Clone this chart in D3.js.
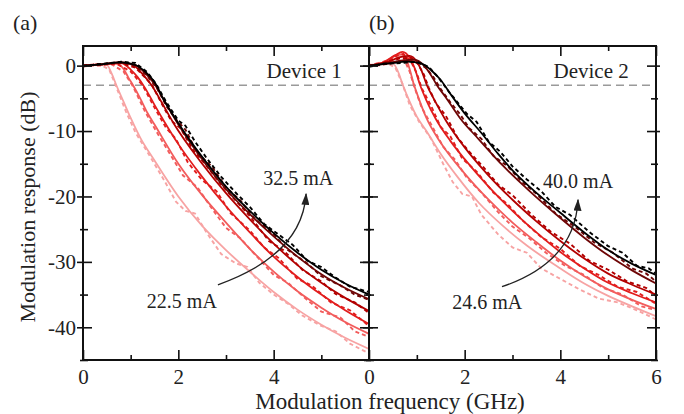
<!DOCTYPE html>
<html>
<head>
<meta charset="utf-8">
<script src="https://cdn.jsdelivr.net/npm/d3@7/dist/d3.min.js"></script>
<style>
  body { margin: 0; background: #fff; }
  svg text { font-family: "Liberation Serif", "Times New Roman", serif; fill: #222; }
</style>
</head>
<body>
<div id="chart"></div>
<script>
// currents, lowest (pink) to highest (black)
const curveColors = ["#f7a3a3", "#f25c5c", "#e21d1d", "#b30000", "#6e0505", "#000000"];

const xMajor = [0, 2, 4, 6];
const xMinor = [1, 3, 5];
const yMajor = [0, -10, -20, -30, -40];
const yMinor = [-5, -15, -25, -35, -45];
const cutoffDb = -3;

// Device 1 fits (solid), [GHz, dB]
const dev1Fit = [
  [[0,0],[0.3,0.2],[0.5,0.1],[0.6,-1.2],[0.7,-3],[0.85,-5.5],[1,-8],[1.2,-11],[1.5,-14.5],[2,-20],[2.5,-24.5],[3,-28.2],[3.5,-31.5],[4,-34.6],[4.5,-37.3],[5,-39.6],[5.5,-41.6],[6,-43.3]],
  [[0,0],[0.4,0.2],[0.7,0.3],[0.85,-0.5],[0.95,-1.8],[1.05,-3],[1.2,-5],[1.35,-7.2],[1.5,-9],[2,-15],[2.5,-19.8],[3,-24],[3.5,-28],[4,-31.5],[4.5,-34.5],[5,-37],[5.5,-39.2],[6,-41]],
  [[0,0],[0.4,0.2],[0.8,0.4],[1,-0.6],[1.15,-1.8],[1.3,-3.4],[1.5,-6],[1.7,-8.5],[2,-12],[2.5,-17],[3,-21.5],[3.5,-25.5],[4,-29.2],[4.5,-32.3],[5,-35],[5.5,-37.4],[6,-39.5]],
  [[0,0],[0.4,0.2],[0.8,0.5],[1.05,0.1],[1.25,-1.3],[1.45,-3.1],[1.65,-5.6],[1.9,-8.8],[2.5,-15],[3,-19.5],[3.5,-23.5],[4,-27.2],[4.5,-30.5],[5,-33.2],[5.5,-35.5],[6,-37.5]],
  [[0,0],[0.4,0.2],[0.8,0.5],[1.1,0.1],[1.3,-1.1],[1.5,-2.8],[1.7,-5.3],[2,-9],[2.3,-12.3],[2.6,-15.3],[3,-18.9],[3.5,-22.7],[4,-26.1],[4.5,-29.2],[5,-31.9],[5.5,-34],[6,-35.7]],
  [[0,0],[0.4,0.2],[0.8,0.5],[1.1,0.1],[1.3,-0.9],[1.5,-2.5],[1.7,-5.3],[2,-8.8],[2.3,-12],[2.6,-14.9],[3,-18.5],[3.5,-22.2],[4,-25.6],[4.5,-28.6],[5,-31.2],[5.5,-33.3],[6,-35]]
];

// Device 1 measured (dashed)
const dev1Meas = [
  [[0,-0.2],[0.2,0.1],[0.4,0],[0.55,-0.6],[0.7,-3.3],[0.9,-7],[1.1,-10.2],[1.4,-13.8],[1.7,-17.5],[1.95,-20.8],[2.15,-22.2],[2.35,-22.6],[2.6,-25.6],[2.9,-28.8],[3.2,-30.2],[3.45,-30.8],[3.7,-33.2],[4,-35],[4.3,-36.4],[4.6,-38.2],[5,-39.8],[5.3,-40.6],[5.6,-42.5],[6,-44]],
  [[0,0.1],[0.3,0],[0.6,0.2],[0.85,-0.9],[1.05,-3.2],[1.3,-7],[1.55,-10.2],[1.8,-13.2],[2.1,-16.8],[2.4,-18.6],[2.7,-21.8],[3,-24.8],[3.3,-26.4],[3.6,-28.8],[4,-32],[4.3,-33.2],[4.7,-35.8],[5,-37.6],[5.4,-38.5],[5.7,-40.6],[6,-41.5]],
  [[0,0],[0.3,0.2],[0.7,0.3],[1,-0.9],[1.25,-3],[1.5,-6.4],[1.75,-9.6],[1.95,-11.2],[2.2,-14.8],[2.5,-17.5],[2.8,-19.2],[3.1,-22.6],[3.5,-25.2],[3.8,-27.8],[4.1,-29.4],[4.5,-32.6],[4.8,-33.6],[5.2,-36.2],[5.6,-37.4],[6,-39.8]],
  [[0,-0.1],[0.3,0.2],[0.8,0.4],[1.1,-0.3],[1.3,-1.8],[1.45,-3],[1.65,-5.8],[1.85,-8.4],[2.05,-9.6],[2.3,-12.8],[2.6,-15.4],[2.9,-18.2],[3.2,-20.6],[3.5,-23],[3.9,-26.8],[4.2,-28.2],[4.6,-31.2],[5,-33],[5.3,-34.9],[5.7,-36.2],[6,-37.8]],
  [[0,0],[0.3,0.1],[0.8,0.5],[1.1,0],[1.35,-1.6],[1.55,-3.4],[1.75,-6.2],[1.95,-8.2],[2.15,-9.8],[2.4,-13.4],[2.7,-15.4],[3,-18.6],[3.3,-20.6],[3.6,-23.4],[4,-25.8],[4.3,-28.2],[4.7,-30.2],[5,-32.2],[5.4,-33.6],[5.7,-35],[6,-35.8]],
  [[0,-0.1],[0.3,0.2],[0.8,0.6],[1.1,0.4],[1.35,-1],[1.55,-3],[1.75,-5.6],[2,-8.4],[2.15,-9.2],[2.35,-11.6],[2.6,-14.2],[2.9,-17],[3.2,-19.4],[3.5,-21.6],[3.8,-24.2],[4.1,-25.8],[4.4,-27.4],[4.7,-29.8],[5,-30.8],[5.3,-32.4],[5.6,-33.8],[6,-34.6]]
];

// Device 2 fits (solid)
const dev2Fit = [
  [[0,0],[0.3,0.3],[0.5,0.3],[0.6,-0.8],[0.71,-3],[0.85,-5.5],[1,-7.8],[1.2,-10],[1.5,-13.5],[1.85,-17],[2.3,-21],[2.8,-24.5],[3.3,-27.5],[4,-31],[4.5,-33.3],[5,-35.2],[5.5,-36.8],[6,-38.3]],
  [[0,0],[0.3,0.5],[0.55,1.5],[0.68,1.7],[0.78,1],[0.86,-0.8],[0.93,-2.7],[1,-4.2],[1.2,-8],[1.5,-11.8],[2,-16.5],[2.5,-20.5],[3,-24],[3.5,-27],[4,-29.8],[4.5,-32.2],[5,-34.2],[5.5,-35.8],[6,-37.2]],
  [[0,0],[0.3,0.5],[0.55,1.6],[0.7,2.1],[0.85,1.2],[0.95,-0.3],[1.07,-3],[1.2,-5.3],[1.4,-8.2],[1.7,-11.5],[2,-14.3],[2.5,-18.5],[3,-22.2],[3.5,-25.5],[4,-28.5],[4.5,-31],[5,-33.2],[5.5,-34.8],[6,-36.2]],
  [[0,0],[0.4,0.6],[0.65,1.3],[0.85,1.5],[1,0.6],[1.1,-0.8],[1.21,-3],[1.35,-5],[1.6,-8.3],[2,-12.5],[2.5,-16.8],[3,-20.5],[3.5,-23.8],[4,-26.8],[4.5,-29.5],[5,-31.8],[5.5,-33.5],[6,-35]],
  [[0,0],[0.4,0.4],[0.7,0.8],[0.95,0.9],[1.15,0],[1.3,-1.5],[1.42,-3],[1.6,-4.8],[1.9,-8],[2.3,-11.3],[2.8,-15.3],[3.3,-18.8],[4,-23.3],[4.5,-26.3],[5,-29],[5.5,-31.3],[6,-33.3]],
  [[0,0],[0.4,0.3],[0.8,0.6],[1.1,0.3],[1.3,-0.7],[1.5,-2.2],[1.7,-4.3],[2,-7.3],[2.35,-10.3],[2.7,-13.5],[3,-16],[3.4,-18.8],[4,-22.5],[4.5,-25.5],[5,-28.2],[5.5,-30.3],[6,-32]]
];

// Device 2 measured (dashed)
const dev2Meas = [
  [[0,0.2],[0.2,0],[0.4,0.3],[0.55,-0.3],[0.7,-2.8],[0.85,-6],[1.05,-8.6],[1.3,-11.2],[1.55,-15],[1.75,-17.8],[1.95,-19.6],[2.15,-20],[2.35,-22.8],[2.7,-25.8],[3,-27.8],[3.3,-28.6],[3.6,-31],[4,-32.6],[4.4,-34.2],[4.8,-35.6],[5.2,-36.2],[5.6,-37.4],[6,-38.8]],
  [[0,0],[0.3,0.6],[0.55,1.2],[0.72,1.2],[0.85,-0.9],[0.95,-3.3],[1.1,-6.4],[1.3,-9],[1.55,-12.4],[1.8,-14.4],[2.05,-17.2],[2.35,-19.4],[2.7,-22.4],[3,-24.6],[3.35,-26.4],[3.7,-28.6],[4.1,-30.6],[4.5,-32],[4.9,-34],[5.3,-35],[5.7,-36.8],[6,-37.4]],
  [[0,0],[0.3,0.3],[0.55,1.4],[0.72,1.8],[0.88,0.6],[1,-1.2],[1.1,-3.4],[1.3,-6.2],[1.5,-9.4],[1.7,-10.8],[1.95,-14.2],[2.25,-16.2],[2.6,-19.4],[2.9,-21.2],[3.2,-23.6],[3.6,-26.2],[4,-28],[4.4,-30.6],[4.8,-32],[5.2,-33.8],[5.6,-34.6],[6,-36.4]],
  [[0,-0.1],[0.3,0.4],[0.65,1.1],[0.88,1.2],[1.02,0.3],[1.15,-1.4],[1.25,-3.4],[1.4,-5.8],[1.6,-7.6],[1.85,-11],[2.1,-13.2],[2.4,-15.6],[2.7,-18.2],[3,-19.8],[3.4,-22.8],[3.8,-25.4],[4.2,-27.2],[4.6,-29.8],[5,-31.2],[5.4,-33],[5.8,-34],[6,-35.2]],
  [[0,0],[0.3,0.2],[0.7,0.6],[1,0.6],[1.2,-0.4],[1.35,-1.8],[1.5,-3.6],[1.7,-5.6],[1.9,-7.4],[2.1,-9.6],[2.35,-11.2],[2.6,-13.8],[2.9,-15.4],[3.2,-17.8],[3.5,-19.6],[3.9,-22.6],[4.3,-24.6],[4.7,-27],[5.1,-28.6],[5.5,-31],[5.8,-31.8],[6,-33]],
  [[0,-0.2],[0.3,0.3],[0.7,0.4],[1,0.6],[1.25,-0.2],[1.45,-1.8],[1.65,-3.8],[1.85,-5.6],[2.05,-7.4],[2.25,-8.6],[2.5,-11.6],[2.75,-13.2],[3,-15.4],[3.3,-17.4],[3.6,-19.2],[3.9,-21.6],[4.2,-22.8],[4.6,-25.4],[5,-27.6],[5.3,-28.6],[5.6,-30.6],[5.85,-31],[6,-31.8]]
];

const panelLetters = ["(a)", "(b)"];
const deviceNames = ["Device 1", "Device 2"];
const currentLow = ["22.5 mA", "24.6 mA"];
const currentHigh = ["32.5 mA", "40.0 mA"];
// label anchors and arrow (start, control, end) in data units
const lowPos = [[1.34, -37], [1.74, -37.2]];
const highPos = [[3.78, -18.2], [3.64, -18.7]];
const arrowPts = [
  [[2.83, -33.5], [4.6, -28.9], [4.68, -19.6]],
  [[2.78, -33.8], [4.31, -30], [4.37, -20.5]]
];

(function () {
  const width = 684, height = 414;
  const top = 46, bottom = 360;
  const lefts = [83, 369], rights = [369, 656];

  const svg = d3.select("#chart").append("svg")
    .attr("width", width)
    .attr("height", height);

  svg.append("defs").append("marker")
    .attr("id", "arrowhead")
    .attr("viewBox", "0 0 12 8")
    .attr("refX", 11).attr("refY", 4)
    .attr("markerWidth", 12).attr("markerHeight", 8)
    .attr("markerUnits", "userSpaceOnUse")
    .attr("orient", "auto")
    .append("path")
    .attr("d", "M0,0 L12,4 L0,8 Z")
    .attr("fill", "#222");

  const y = d3.scaleLinear().domain([-45, 3]).range([bottom, top]);

  [0, 1].forEach(function (i) {
    const x = d3.scaleLinear().domain([0, 6]).range([lefts[i], rights[i]]);
    const fits = i === 0 ? dev1Fit : dev2Fit;
    const meas = i === 0 ? dev1Meas : dev2Meas;

    svg.append("clipPath").attr("id", "clip" + i)
      .append("rect")
      .attr("x", x(0)).attr("y", y(3))
      .attr("width", x(6) - x(0)).attr("height", y(-45) - y(3));

    const g = svg.append("g").attr("clip-path", "url(#clip" + i + ")");

    g.append("line")
      .attr("x1", x(0)).attr("x2", x(6))
      .attr("y1", y(cutoffDb)).attr("y2", y(cutoffDb))
      .attr("stroke", "#9a9a9a")
      .attr("stroke-width", 1.6)
      .attr("stroke-dasharray", "8,5");

    const line = d3.line()
      .x(function (d) { return x(d[0]); })
      .y(function (d) { return y(d[1]); });

    fits.forEach(function (pts, k) {
      g.append("path")
        .attr("d", line.curve(d3.curveMonotoneX)(pts))
        .attr("fill", "none")
        .attr("stroke", curveColors[k])
        .attr("stroke-width", 1.8);
      g.append("path")
        .attr("d", line.curve(d3.curveLinear)(meas[k]))
        .attr("fill", "none")
        .attr("stroke", curveColors[k])
        .attr("stroke-width", 1.9)
        .attr("stroke-dasharray", "4,3");
    });

    // axes, ticks crossing the frame like the original
    const left = svg.append("g")
      .attr("transform", "translate(" + x(0) + ",0)")
      .call(d3.axisLeft(y).tickValues(yMajor).tickSize(6).tickPadding(1)
        .tickFormat(i === 0 ? function (d) { return String(d); } : ""));
    left.selectAll(".tick line").attr("x1", 9);
    const leftMinor = svg.append("g")
      .attr("transform", "translate(" + x(0) + ",0)")
      .call(d3.axisLeft(y).tickValues(yMinor).tickSize(3).tickFormat(""));
    leftMinor.selectAll(".tick line").attr("x1", 5);

    const right = svg.append("g")
      .attr("transform", "translate(" + x(6) + ",0)")
      .call(d3.axisRight(y).tickValues(yMajor).tickSize(4).tickFormat(""));
    right.selectAll(".tick line").attr("x1", -9);
    const rightMinor = svg.append("g")
      .attr("transform", "translate(" + x(6) + ",0)")
      .call(d3.axisRight(y).tickValues(yMinor).tickSize(2).tickFormat(""));
    rightMinor.selectAll(".tick line").attr("x1", -5);

    svg.append("g")
      .attr("transform", "translate(0," + bottom + ")")
      .call(d3.axisBottom(x).tickValues(i === 0 ? [0, 2, 4] : xMajor).tickSize(-10).tickPadding(9)
        .tickFormat(d3.format("d")));
    svg.append("g")
      .attr("transform", "translate(0," + bottom + ")")
      .call(d3.axisBottom(x).tickValues(xMinor).tickSize(-5).tickFormat(""));
    svg.append("g")
      .attr("transform", "translate(0," + top + ")")
      .call(d3.axisTop(x).tickValues(xMajor).tickSize(-10).tickFormat(""));
    svg.append("g")
      .attr("transform", "translate(0," + top + ")")
      .call(d3.axisTop(x).tickValues(xMinor).tickSize(-5).tickFormat(""));

    svg.selectAll(".domain").remove();
    svg.selectAll(".tick line").attr("stroke", "#111").attr("stroke-width", 1.6);
    svg.selectAll(".tick text")
      .attr("font-family", "Liberation Serif, serif")
      .attr("font-size", 21)
      .attr("fill", "#222");

    svg.append("rect")
      .attr("x", x(0)).attr("y", y(3))
      .attr("width", x(6) - x(0)).attr("height", y(-45) - y(3))
      .attr("fill", "none")
      .attr("stroke", "#111")
      .attr("stroke-width", 2);

    svg.append("text")
      .attr("x", x(0) - (i === 0 ? 70 : 0)).attr("y", 30)
      .attr("font-size", 22)
      .text(panelLetters[i]);

    svg.append("text")
      .attr("x", x(5.43)).attr("y", y(-1.9))
      .attr("text-anchor", "end")
      .attr("font-size", 21)
      .text(deviceNames[i]);

    svg.append("text")
      .attr("x", x(highPos[i][0])).attr("y", y(highPos[i][1]))
      .attr("font-size", 20)
      .text(currentHigh[i]);
    svg.append("text")
      .attr("x", x(lowPos[i][0])).attr("y", y(lowPos[i][1]))
      .attr("font-size", 20)
      .text(currentLow[i]);

    const a = arrowPts[i];
    const p = d3.path();
    p.moveTo(x(a[0][0]), y(a[0][1]));
    p.quadraticCurveTo(x(a[1][0]), y(a[1][1]), x(a[2][0]), y(a[2][1]));
    svg.append("path")
      .attr("d", p.toString())
      .attr("fill", "none")
      .attr("stroke", "#222")
      .attr("stroke-width", 1.3)
      .attr("marker-end", "url(#arrowhead)");
  });

  svg.append("text")
    .attr("transform", "translate(35," + 207 + ") rotate(-90)")
    .attr("text-anchor", "middle")
    .attr("font-size", 22)
    .text("Modulation response (dB)");

  svg.append("text")
    .attr("x", 390).attr("y", 409)
    .attr("text-anchor", "middle")
    .attr("font-size", 23)
    .text("Modulation frequency (GHz)");
})();
</script>
</body>
</html>
